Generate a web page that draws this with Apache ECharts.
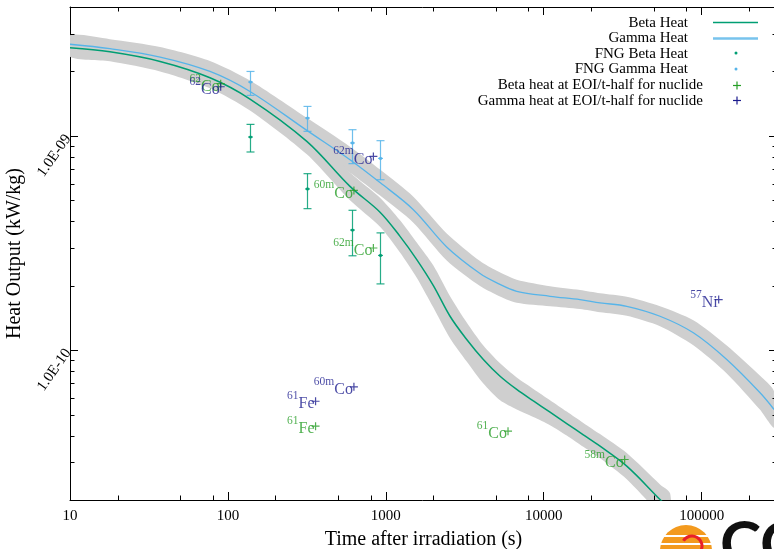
<!DOCTYPE html>
<html><head><meta charset="utf-8">
<script src="https://cdn.jsdelivr.net/npm/echarts@6/dist/echarts.min.js"></script>
<style>html,body{margin:0;padding:0;background:#fff;overflow:hidden}#c{width:774px;height:549px}</style>
</head><body><div id="c"></div><script>
const FONT = '"Liberation Serif", "Times New Roman", serif';

// ---- calculated curves (time s, heat kW/kg) ----
const gammaTime  = [10,17.9,37.2,77,138,316,593,919,1494,2430,3950,5040,6745,10960,16980,22730,33550,54500,88600,144200,234400,287400];
const gammaHeat  = [2.68e-9,2.555e-9,2.336e-9,2.001e-9,1.614e-9,1.062e-9,7.75e-10,6.06e-10,4.53e-10,3.035e-10,2.279e-10,2.063e-10,1.884e-10,1.786e-10,1.724e-10,1.664e-10,1.604e-10,1.441e-10,1.206e-10,9.05e-11,6.33e-11,5.29e-11];
const gammaUpper = [2.952e-9,2.829e-9,2.601e-9,2.240e-9,1.816e-9,1.215e-9,8.91e-10,6.97e-10,5.21e-10,3.509e-10,2.607e-10,2.347e-10,2.132e-10,1.988e-10,1.909e-10,1.843e-10,1.776e-10,1.604e-10,1.379e-10,1.052e-10,7.60e-11,6.42e-11];
const gammaLower = [2.433e-9,2.307e-9,2.098e-9,1.788e-9,1.434e-9,9.29e-10,6.74e-10,5.27e-10,3.94e-10,2.625e-10,1.993e-10,1.813e-10,1.665e-10,1.604e-10,1.557e-10,1.503e-10,1.448e-10,1.294e-10,1.054e-10,7.79e-11,5.27e-11,4.36e-11];

const betaTime  = [10,17.9,37.2,77,138,316,593,919,1230,1570,2000,2550,3253,4145,5290,6745,8597,10960,13980,17810,22730,33550,54500,63100];
const betaHeat  = [2.58e-9,2.47e-9,2.228e-9,1.87e-9,1.488e-9,9.44e-10,5.82e-10,4.41e-10,3.40e-10,2.65e-10,2.003e-10,1.441e-10,1.122e-10,9.05e-11,7.56e-11,6.56e-11,5.80e-11,5.14e-11,4.55e-11,4.03e-11,3.565e-11,2.877e-11,2.011e-11,1.81e-11];
const betaUpper = [2.842e-9,2.735e-9,2.480e-9,2.093e-9,1.684e-9,1.086e-9,6.76e-10,5.15e-10,4.04e-10,3.18e-10,2.483e-10,1.787e-10,1.347e-10,1.052e-10,8.69e-11,7.46e-11,6.60e-11,5.85e-11,5.18e-11,4.58e-11,4.06e-11,3.31e-11,2.363e-11,2.15e-11];
const betaLower = [2.342e-9,2.230e-9,2.001e-9,1.671e-9,1.315e-9,8.21e-10,5.01e-10,3.77e-10,2.86e-10,2.18e-10,1.581e-10,1.138e-10,8.86e-11,6.99e-11,5.84e-11,5.29e-11,4.88e-11,4.47e-11,4.00e-11,3.54e-11,3.13e-11,2.50e-11,1.712e-11,1.52e-11];

// ---- FNG measurements ----
const fngTime   = [138, 316, 615, 919];
const fngBeta   = [9.89e-10, 5.66e-10, 3.64e-10, 2.77e-10];
const fngBetaLo = [8.42e-10, 4.58e-10, 2.76e-10, 2.04e-10];
const fngBetaHi = [1.133e-9, 6.67e-10, 4.50e-10, 3.53e-10];
const fngGamma   = [1.786e-9, 1.213e-9, 9.28e-10, 7.86e-10];
const fngGammaLo = [1.547e-9, 1.051e-9, 7.43e-10, 6.25e-10];
const fngGammaHi = [2.001e-9, 1.374e-9, 1.070e-9, 9.51e-10];

// ---- nuclide markers (t-half, heat at EOI) ----
const betaNucMass = ['62','60m','62m','61','61','58m'];
const betaNucEl   = ['Co','Co','Co','Fe','Co','Co'];
const betaNucTime = [90, 628, 834, 359, 5940, 32540];
const betaNucHeat = [1.754e-9, 5.57e-10, 3.00e-10, 4.42e-11, 4.19e-11, 3.09e-11];
const gammaNucMass = ['62','62m','60m','61','57'];
const gammaNucEl   = ['Co','Co','Co','Fe','Ni'];
const gammaNucTime = [90, 834, 628, 359, 128200];
const gammaNucHeat = [1.698e-9, 8.03e-10, 6.75e-11, 5.78e-11, 1.724e-10];

// ---- axes ----
const xTickValues = [10, 100, 1000, 10000, 100000];
const xTickLabels = ['10', '100', '1000', '10000', '100000'];
const yTickValues = [1e-10, 1e-9];
const yTickLabels = ['1.0E-10', '1.0E-09'];
const xMinorTicks = [20,50,80,200,500,800,2000,5000,8000,20000,50000,80000,200000];
const yMinorTicks = [3e-11,4e-11,5e-11,6e-11,7e-11,8e-11,9e-11,2e-10,3e-10,4e-10,5e-10,6e-10,7e-10,8e-10,9e-10,2e-9,3e-9];

const C_BETA = '#009e73', C_GAMMA = '#56b4e9', C_NB = '#259e25', C_NG = '#1c1c8e', C_BAND = '#cfcfcf';
const PLUS = 'path://M3.4,0H4.6V3.4H8V4.6H4.6V8H3.4V4.6H0V3.4H3.4Z';

function lookup(vals, labels, v) {
  for (let i = 0; i < vals.length; i++) if (Math.abs(v / vals[i] - 1) < 1e-6) return labels[i];
  return '';
}

function bandSeries(xs, lo, hi) {
  return {
    type: 'custom', silent: true, clip: true, z: 1,
    encode: { x: 0, y: 1 },
    data: [[xs[0], hi[0]]],
    renderItem(params, api) {
      const pts = [];
      for (let i = 0; i < xs.length; i++) pts.push(api.coord([xs[i], hi[i]]));
      for (let i = xs.length - 1; i >= 0; i--) pts.push(api.coord([xs[i], lo[i]]));
      return { type: 'polygon', shape: { points: pts, smooth: 0.25 }, style: { fill: C_BAND } };
    }
  };
}

function errSeries(name, xs, ys, lo, hi, color) {
  return {
    type: 'custom', name, silent: true, z: 4,
    encode: { x: 0, y: 1 },
    data: xs.map((x, i) => [x, ys[i], lo[i], hi[i]]),
    renderItem(params, api) {
      const pc = api.coord([api.value(0), api.value(1)]);
      const pl = api.coord([api.value(0), api.value(2)]);
      const ph = api.coord([api.value(0), api.value(3)]);
      const st = { stroke: color, lineWidth: 1.2, opacity: 0.85 };
      const x = Math.round(pc[0]) + 0.5;
      return { type: 'group', children: [
        { type: 'line', shape: { x1: x, y1: ph[1], x2: x, y2: pl[1] }, style: st },
        { type: 'line', shape: { x1: x - 4, y1: ph[1], x2: x + 4, y2: ph[1] }, style: st },
        { type: 'line', shape: { x1: x - 4, y1: pl[1], x2: x + 4, y2: pl[1] }, style: st },
        { type: 'line', shape: { x1: x - 2.5, y1: pc[1], x2: x + 2.5, y2: pc[1] }, style: st },
        { type: 'circle', shape: { cx: x, cy: pc[1], r: 1.6 }, style: { fill: color } }
      ] };
    }
  };
}

function nucSeries(name, mass, el, xs, ys, color) {
  return {
    type: 'scatter', name, symbol: PLUS, symbolSize: 8, z: 6,
    itemStyle: { color },
    data: xs.map((x, i) => ({ value: [x, ys[i]], label: { formatter: '{s|' + mass[i] + '}{e|' + el[i] + '}' } })),
    label: {
      show: true, position: 'left', distance: -3,
      rich: {
        s: { fontSize: 11.5, fontFamily: FONT, color, verticalAlign: 'top', lineHeight: 11 },
        e: { fontSize: 16, fontFamily: FONT, color, verticalAlign: 'bottom', lineHeight: 22 }
      }
    }
  };
}

const ticksX = {
  type: 'custom', silent: true, clip: false, z: 7, encode: { x: 0, y: 1 },
  data: xMinorTicks.map(v => [v, 1e-10]),
  renderItem(params, api) {
    const cs = params.coordSys;
    const px = Math.round(api.coord([api.value(0), 1e-10])[0]) + 0.5;
    const st = { stroke: '#000', lineWidth: 1 };
    return { type: 'group', children: [
      { type: 'line', shape: { x1: px, y1: cs.y + cs.height, x2: px, y2: cs.y + cs.height - 4.5 }, style: st },
      { type: 'line', shape: { x1: px, y1: cs.y, x2: px, y2: cs.y + 4.5 }, style: st }
    ] };
  }
};
const ticksY = {
  type: 'custom', silent: true, clip: false, z: 7, encode: { x: 0, y: 1 },
  data: yMinorTicks.map(v => [100, v]),
  renderItem(params, api) {
    const cs = params.coordSys;
    const py = Math.round(api.coord([100, api.value(1)])[1]) + 0.5;
    const st = { stroke: '#000', lineWidth: 1 };
    return { type: 'group', children: [
      { type: 'line', shape: { x1: cs.x, y1: py, x2: cs.x + 4.5, y2: py }, style: st },
      { type: 'line', shape: { x1: cs.x + cs.width, y1: py, x2: cs.x + cs.width - 4.5, y2: py }, style: st }
    ] };
  }
};

const axisCommon = {
  axisLine: { show: true, lineStyle: { color: '#000', width: 1 } },
  axisTick: { show: true, inside: true, length: 8, lineStyle: { color: '#000' } },
  splitLine: { show: false }, minorTick: { show: false }
};

const chart = echarts.init(document.getElementById('c'), null, { renderer: 'canvas' });

function legendItem(y, textX, label, sym) { return [
  { type: 'text', x: textX, y, style: { text: label, fontFamily: FONT, fontSize: 15, fill: '#000', align: 'right', verticalAlign: 'middle' } },
  sym
]; }

const graphic = [].concat(
  legendItem(23, 688, 'Beta Heat', { type: 'line', shape: { x1: 713, y1: 22.5, x2: 758, y2: 22.5 }, style: { stroke: C_BETA, lineWidth: 1.5 } }),
  legendItem(38.5, 688, 'Gamma Heat', { type: 'line', shape: { x1: 713, y1: 38.5, x2: 758, y2: 38.5 }, style: { stroke: C_GAMMA, lineWidth: 2.4, opacity: 0.8 } }),
  legendItem(54, 688, 'FNG Beta Heat', { type: 'circle', shape: { cx: 736, cy: 53, r: 1.5 }, style: { fill: C_BETA } }),
  legendItem(69.5, 688, 'FNG Gamma Heat', { type: 'circle', shape: { cx: 736, cy: 69, r: 1.5 }, style: { fill: C_GAMMA } }),
  legendItem(85, 703, 'Beta heat at EOI/t-half for nuclide', { type: 'group', children: [
    { type: 'line', shape: { x1: 733, y1: 85.5, x2: 741, y2: 85.5 }, style: { stroke: C_NB, lineWidth: 1.2 } },
    { type: 'line', shape: { x1: 737, y1: 81.5, x2: 737, y2: 89.5 }, style: { stroke: C_NB, lineWidth: 1.2 } } ] }),
  legendItem(101, 703, 'Gamma heat at EOI/t-half for nuclide', { type: 'group', children: [
    { type: 'line', shape: { x1: 733, y1: 100.5, x2: 741, y2: 100.5 }, style: { stroke: C_NG, lineWidth: 1.2 } },
    { type: 'line', shape: { x1: 737, y1: 96.5, x2: 737, y2: 104.5 }, style: { stroke: C_NG, lineWidth: 1.2 } } ] }),
  [
    { type: 'circle', shape: { cx: 686, cy: 551, r: 26 }, style: { fill: '#f39a1e' }, z: 50 },
    { type: 'line', shape: { x1: 660, y1: 536, x2: 712, y2: 536 }, style: { stroke: '#fff', lineWidth: 2 }, z: 51 },
    { type: 'line', shape: { x1: 660, y1: 544, x2: 712, y2: 544 }, style: { stroke: '#fff', lineWidth: 2 }, z: 51 },
    { type: 'arc', shape: { cx: 692, cy: 546, r: 10, startAngle: -2.6, endAngle: 0.6 }, style: { stroke: '#e8202a', lineWidth: 3, fill: null }, z: 52 },
    { type: 'text', x: 720, y: 514, style: { text: 'CC', fontFamily: 'Lato, "DejaVu Sans", sans-serif', fontWeight: 'bold', fontSize: 62, fill: '#111' }, z: 50 }
  ]
);

chart.setOption({
  animation: false,
  backgroundColor: '#fff',
  grid: { left: 70, top: 7, right: -3, bottom: 49, containLabel: false, outerBoundsMode: 'none' },
  xAxis: [
    Object.assign({}, axisCommon, {
      type: 'log', logBase: 10, min: 10, max: 300000, position: 'bottom',
      name: 'Time after irradiation (s)', nameLocation: 'middle', nameGap: 30,
      nameTextStyle: { fontFamily: FONT, fontSize: 20, color: '#000' },
      axisLabel: { fontFamily: FONT, fontSize: 15, color: '#000', margin: 9, showMaxLabel: false, showMinLabel: true,
        formatter: v => lookup(xTickValues, xTickLabels, v) }
    }),
    Object.assign({}, axisCommon, {
      type: 'log', logBase: 10, min: 10, max: 300000, position: 'top', axisLabel: { show: false }
    })
  ],
  yAxis: [
    Object.assign({}, axisCommon, {
      type: 'log', logBase: 10, min: 2e-11, max: 4e-9, position: 'left',
      name: 'Heat Output (kW/kg)', nameLocation: 'middle', nameGap: 39,
      nameTextStyle: { fontFamily: FONT, fontSize: 20, color: '#000' },
      axisLabel: { fontFamily: FONT, fontSize: 15, color: '#000', margin: 2, rotate: 55, showMinLabel: false, showMaxLabel: false,
        formatter: v => lookup(yTickValues, yTickLabels, v) }
    }),
    Object.assign({}, axisCommon, {
      type: 'log', logBase: 10, min: 2e-11, max: 4e-9, position: 'right', axisLabel: { show: false }
    })
  ],
  series: [
    bandSeries(gammaTime, gammaLower, gammaUpper),
    bandSeries(betaTime, betaLower, betaUpper),
    { type: 'line', name: 'Beta Heat', data: betaTime.map((t, i) => [t, betaHeat[i]]), smooth: 0.35, showSymbol: false,
      lineStyle: { color: C_BETA, width: 1.5 }, itemStyle: { color: C_BETA }, z: 3 },
    { type: 'line', name: 'Gamma Heat', data: gammaTime.map((t, i) => [t, gammaHeat[i]]), smooth: 0.35, showSymbol: false,
      lineStyle: { color: C_GAMMA, width: 1.3 }, itemStyle: { color: C_GAMMA }, z: 3 },
    errSeries('FNG Beta Heat', fngTime, fngBeta, fngBetaLo, fngBetaHi, C_BETA),
    errSeries('FNG Gamma Heat', fngTime, fngGamma, fngGammaLo, fngGammaHi, C_GAMMA),
    nucSeries('Beta heat at EOI/t-half for nuclide', betaNucMass, betaNucEl, betaNucTime, betaNucHeat, C_NB),
    nucSeries('Gamma heat at EOI/t-half for nuclide', gammaNucMass, gammaNucEl, gammaNucTime, gammaNucHeat, C_NG),
    ticksX, ticksY
  ],
  graphic: { elements: graphic }
});
</script></body></html>
